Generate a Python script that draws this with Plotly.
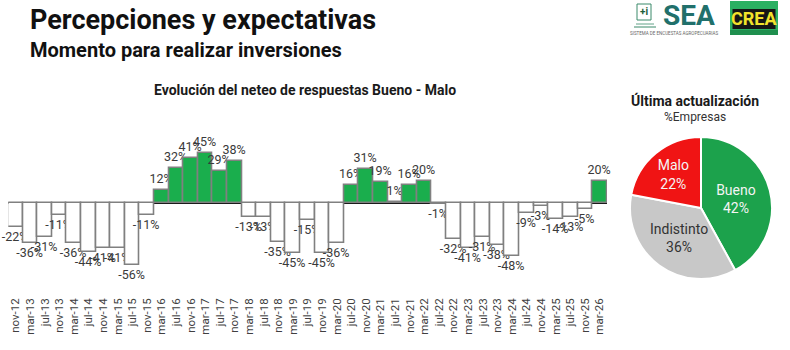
import plotly.graph_objects as go

W, H = 790, 350

periods = ["nov-12","mar-13","jul-13","nov-13","mar-14","jul-14","nov-14","mar-15","jul-15","nov-15",
           "mar-16","jul-16","nov-16","mar-17","jul-17","nov-17","mar-18","jul-18","nov-18","mar-19",
           "jul-19","nov-19","mar-20","jul-20","nov-20","mar-21","jul-21","nov-21","mar-22","jul-22",
           "nov-22","mar-23","jul-23","nov-23","mar-24","jul-24","nov-24","mar-25","jul-25","nov-25","mar-26"]
neteo = [-22,-36,-31,-11,-36,-44,-41,-41,-56,-11,
         12,32,41,45,29,38,-13,-13,-35,-45,
         -15,-45,-36,16,31,19,1,16,20,-1,
         -32,-41,-31,-38,-48,-9,-3,-14,-13,-5,20]

pie_labels = ["Bueno", "Indistinto", "Malo"]
pie_values = [42, 36, 22]
pie_colors = ["#1ca24c", "#c8c8c8", "#f01414"]
pie_text_colors = ["#f4f4f4", "#333333", "#f4f4f4"]

GREEN = "#1aae4d"

def px(x):
    return x / W

def py(y):
    return 1 - y / H

bar_colors = [GREEN if v > 0 else "white" for v in neteo]
bar_text = [f"{v}%" for v in neteo]

fig = go.Figure()
fig.add_trace(go.Bar(
    x=periods, y=neteo,
    marker=dict(color=bar_colors, line=dict(color="#808080", width=1.6)),
    text=bar_text, textposition="outside", constraintext="none",
    textfont=dict(family="Roboto", size=12.5, color="#3a3a3a"),
    cliponaxis=False, hoverinfo="skip", showlegend=False,
))

fig.add_trace(go.Pie(
    labels=pie_labels, values=pie_values, sort=False, direction="clockwise", rotation=0,
    marker=dict(colors=pie_colors, line=dict(color="white", width=2)),
    texttemplate="%{label}<br>%{value}%", textposition="inside",
    insidetextorientation="horizontal",
    textfont=dict(family="Roboto", size=14, color=pie_text_colors),
    domain=dict(x=[px(629), px(773)], y=[py(279), py(137)]),
    showlegend=False, hoverinfo="skip",
))

fig.update_layout(
    width=W, height=H, margin=dict(l=0, r=0, t=0, b=0),
    paper_bgcolor="white", plot_bgcolor="white",
    bargap=0,
    xaxis=dict(domain=[px(8.3), px(607)], tickangle=-90, showgrid=False, showline=False,
               ticks="", tickfont=dict(family="Roboto", size=11.5, color="#404040"),
               range=[-0.5, 40.5]),
    yaxis=dict(domain=[py(295), py(120)], range=[-83, 75], showgrid=False,
               showticklabels=False, zeroline=True, zerolinecolor="#1a1a1a", zerolinewidth=1.5),
)

ann = [
    dict(text="<b>Percepciones y expectativas</b>", x=px(28), y=py(20), xanchor="left", yanchor="middle",
         font=dict(family="Roboto", size=27, color="#111111")),
    dict(text="<b>Momento para realizar inversiones</b>", x=px(28), y=py(50), xanchor="left", yanchor="middle",
         font=dict(family="Roboto", size=20, color="#111111")),
    dict(text="<b>Evolución del neteo de respuestas Bueno - Malo</b>", x=px(305), y=py(90), xanchor="center",
         yanchor="middle", font=dict(family="Roboto", size=14, color="#1a1a1a")),
    dict(text="<b>Última actualización</b>", x=px(695), y=py(100), xanchor="center", yanchor="middle",
         font=dict(family="Roboto", size=14, color="#1a1a1a")),
    dict(text="%Empresas", x=px(695), y=py(117), xanchor="center", yanchor="middle",
         font=dict(family="Roboto", size=12, color="#333333")),
    # SEA logo text
    dict(text="<b>SEA</b>", x=px(689), y=py(16), xanchor="center", yanchor="middle",
         font=dict(family="Roboto", size=28, color="#21706b")),
    dict(text="<b>+i</b>", x=px(643.5), y=py(12), xanchor="center", yanchor="middle",
         font=dict(family="Roboto", size=10, color="#1d5e3a")),
    dict(text="SISTEMA DE ENCUESTAS AGROPECUARIAS", x=px(674), y=py(33), xanchor="center", yanchor="middle",
         font=dict(family="Roboto", size=4.5, color="#666666")),
    # CREA logo text
    dict(text="<b>CREA</b>", x=px(754), y=py(19), xanchor="center", yanchor="middle",
         font=dict(family="Liberation Sans Narrow, Roboto", size=18, color="#f2e22c")),
]
for a in ann:
    a.update(xref="paper", yref="paper", showarrow=False)
fig.update_layout(annotations=ann)

shapes = [
    # SEA icon
    dict(type="rect", x0=px(637), x1=px(651), y0=py(20), y1=py(4), line=dict(color="#3a8a6a", width=1),
         fillcolor="rgba(0,0,0,0)"),
    dict(type="line", x0=px(634), x1=px(656), y0=py(27), y1=py(27), line=dict(color="#3a8a6a", width=1)),
    dict(type="line", x0=px(636), x1=px(654), y0=py(24), y1=py(24), line=dict(color="#3a8a6a", width=0.8)),
    # CREA logo
    dict(type="rect", x0=px(730), x1=px(778), y0=py(35), y1=py(1), line=dict(width=0), fillcolor="#2bb062"),
    dict(type="rect", x0=px(730), x1=px(778), y0=py(35), y1=py(30), line=dict(width=0), fillcolor="#1f8f4e"),
    dict(type="rect", x0=px(732.5), x1=px(775.5), y0=py(29), y1=py(9), line=dict(width=0), fillcolor="#161616"),
]
for s in shapes:
    s.update(xref="paper", yref="paper")
fig.update_layout(shapes=shapes)

fig.write_html("out.html")
